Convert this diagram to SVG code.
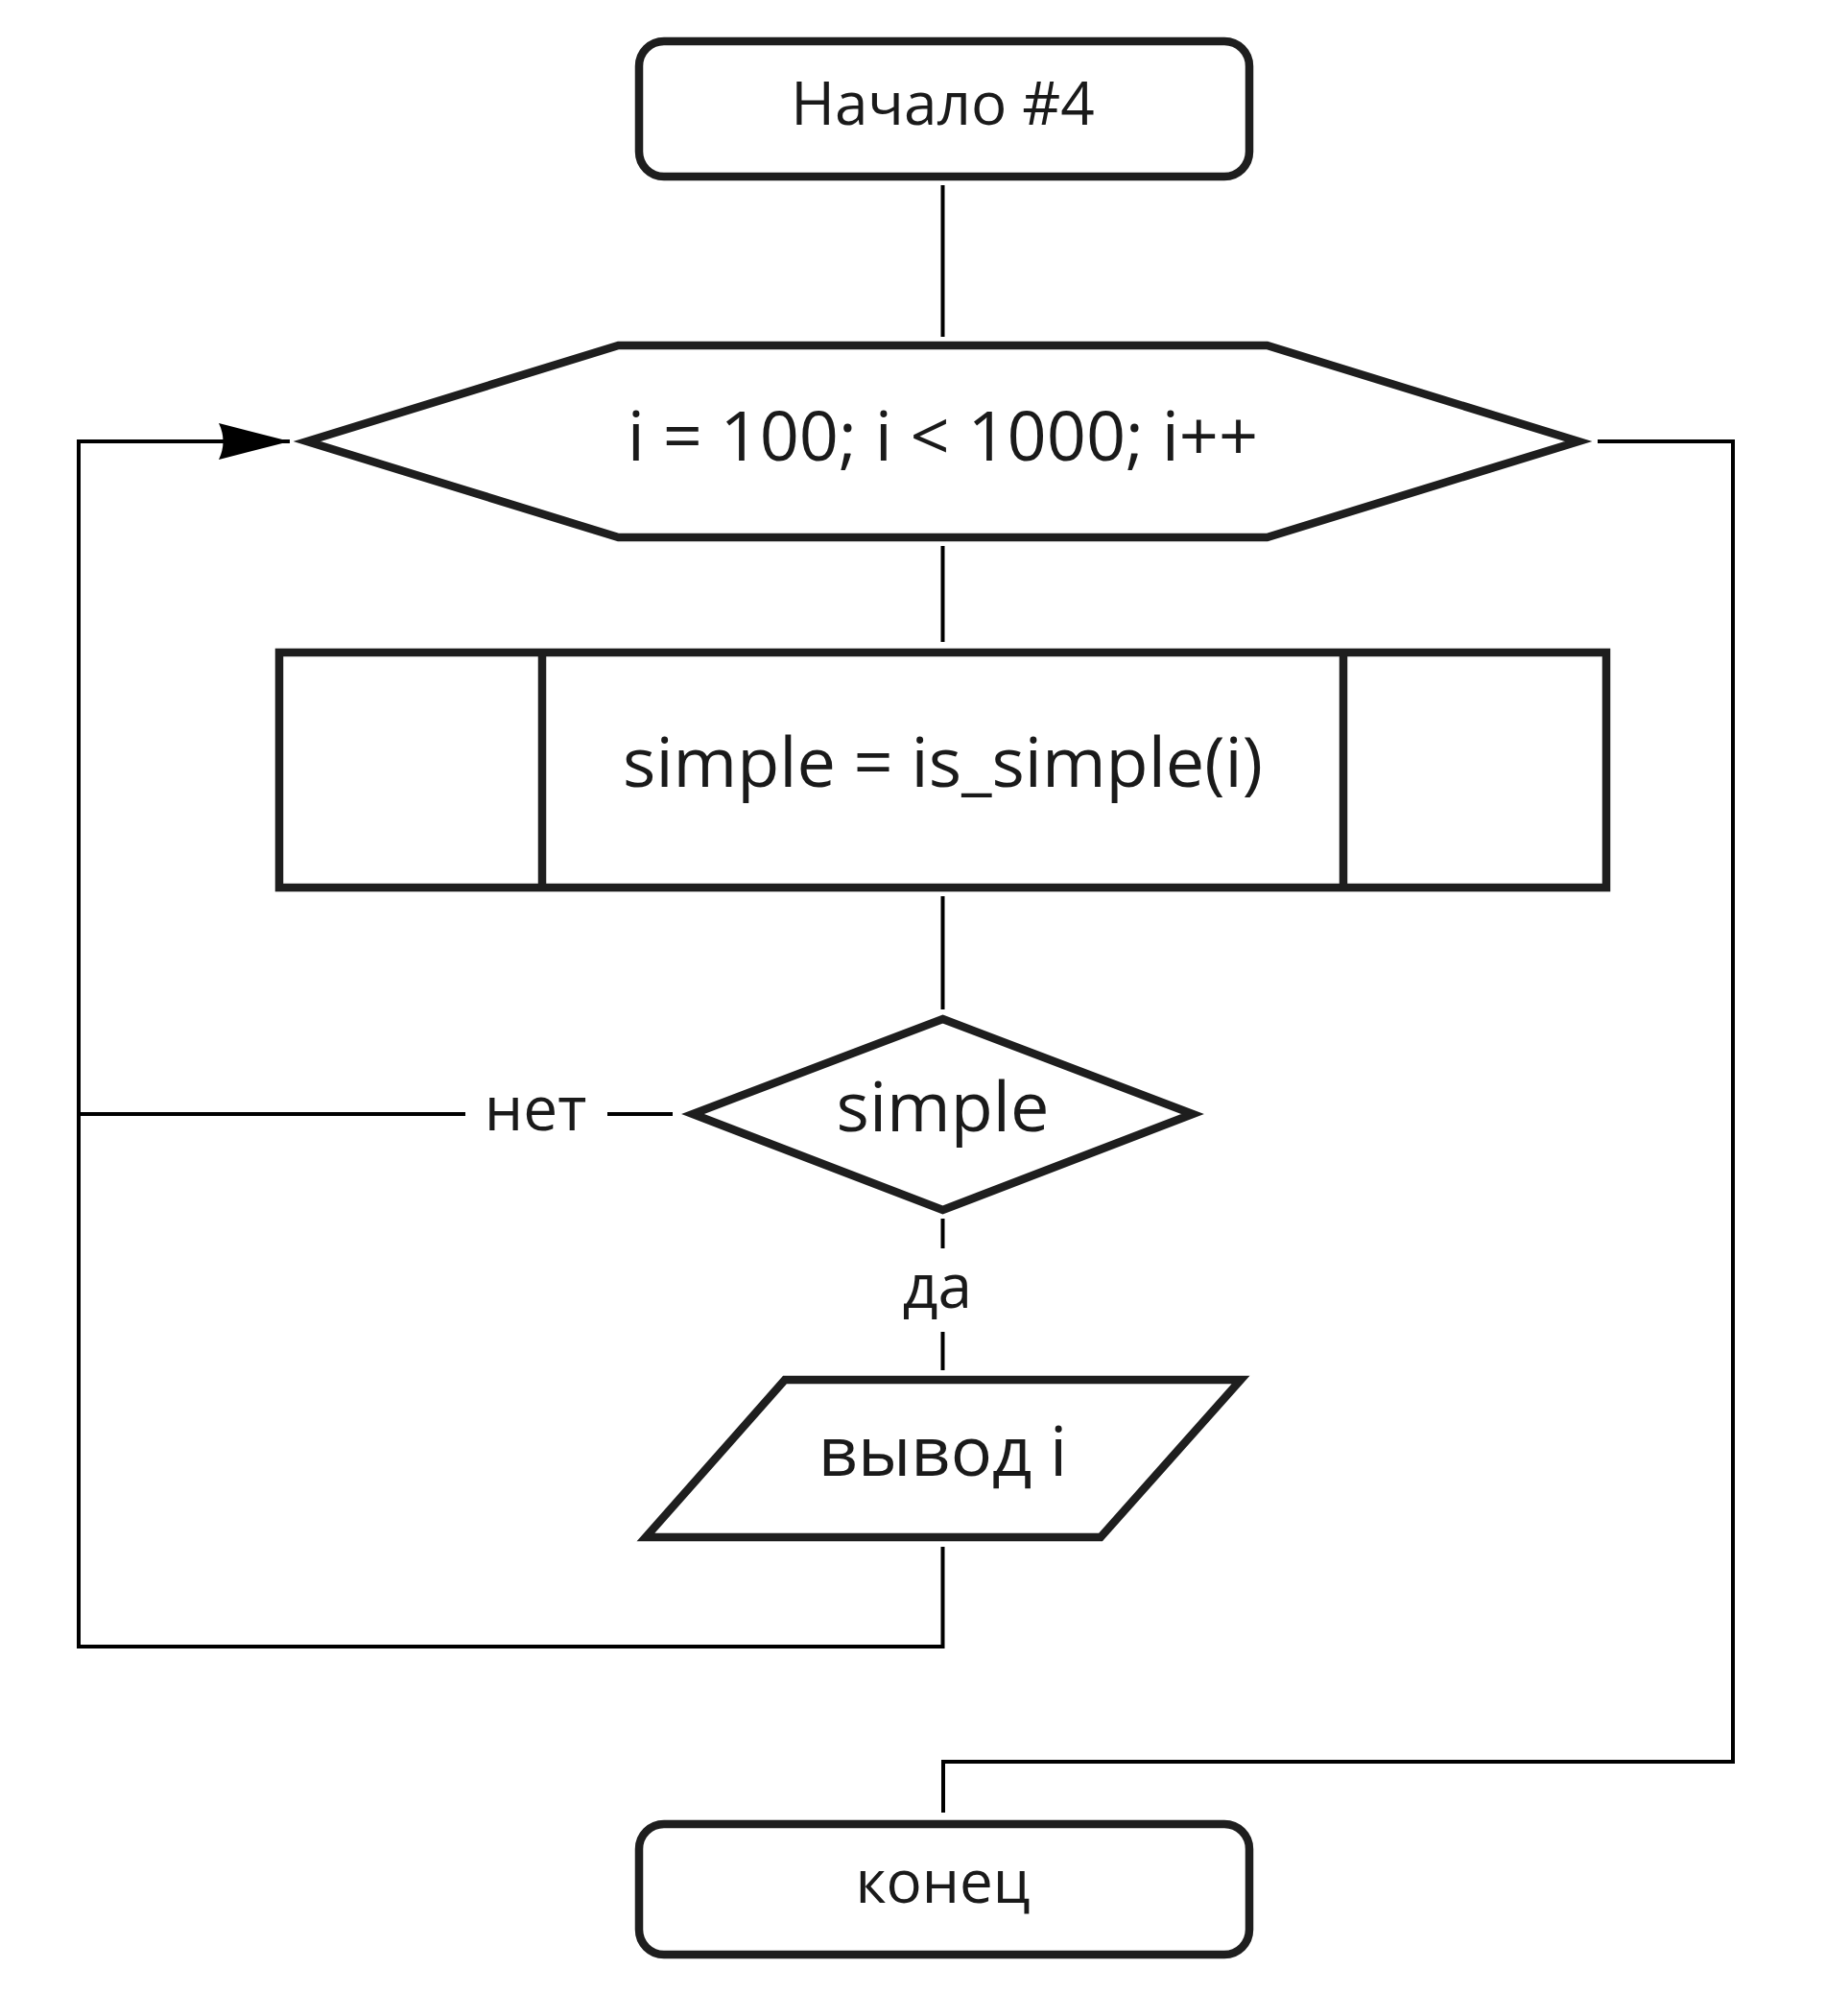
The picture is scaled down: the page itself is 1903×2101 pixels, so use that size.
<svg xmlns="http://www.w3.org/2000/svg" width="1903" height="2101" viewBox="0 0 1903 2101">
<style>
.node{fill:#ffffff;stroke:#1e1e1e;stroke-width:8.5;stroke-linejoin:miter;stroke-miterlimit:10}
.conn{fill:none;stroke:#000000;stroke-width:4}
.t{font-family:"Open Sans","Noto Sans","DejaVu Sans",sans-serif;fill:#1a1a1a;text-anchor:middle}
.big{font-size:72px}
.term{font-size:62px}
.lbl{font-size:64px}
</style>
<defs>
<marker id="arr" markerUnits="userSpaceOnUse" markerWidth="80" markerHeight="44" refX="74" refY="22" orient="auto" viewBox="0 0 80 44">
<path d="M74,22 L0,3 Q9,22 0,41 Z" fill="#000"/>
</marker>
</defs>
<rect width="1903" height="2101" fill="#ffffff"/>
<g id="connectors">
<line class="conn" x1="982.5" y1="193" x2="982.5" y2="351"/>
<line class="conn" x1="982.5" y1="569" x2="982.5" y2="669"/>
<line class="conn" x1="982.5" y1="934" x2="982.5" y2="1052"/>
<line class="conn" x1="982.5" y1="1270" x2="982.5" y2="1301"/>
<line class="conn" x1="982.5" y1="1388" x2="982.5" y2="1428"/>
<line class="conn" x1="701" y1="1161" x2="633" y2="1161"/>
<line class="conn" x1="485" y1="1161" x2="82" y2="1161"/>
<polyline class="conn" points="982.5,1612 982.5,1716 82,1716 82,460 302,460" marker-end="url(#arr)"/>
<polyline class="conn" points="1665,460 1806,460 1806,1836 983,1836 983,1889"/>
<text class="t lbl" x="558" y="1178">нет</text>
<text class="t lbl" x="977" y="1363">да</text>
</g>
<g id="start">
<rect class="node" x="666" y="43" width="636" height="141" rx="26" ry="26"/>
<text class="t term" x="982.5" y="130">Начало #4</text>
</g>
<g id="loop">
<polygon class="node" points="320,460 644.5,360 1320.5,360 1645,460 1320.5,560 644.5,560"/>
<text class="t big" x="982.5" y="480">i = 100; i &lt; 1000; i++</text>
</g>
<g id="subroutine">
<rect class="node" x="291" y="680" width="1383" height="245"/>
<line class="node" x1="565" y1="680" x2="565" y2="925"/>
<line class="node" x1="1400" y1="680" x2="1400" y2="925"/>
<text class="t big" x="982.5" y="820">simple = is_simple(i)</text>
</g>
<g id="decision">
<polygon class="node" points="982.5,1062 1243,1161 982.5,1261 722,1161"/>
<text class="t big" x="982.5" y="1179">simple</text>
</g>
<g id="output">
<polygon class="node" points="818,1438 1293,1438 1147,1602 673,1602"/>
<text class="t big" x="982.5" y="1538">вывод i</text>
</g>
<g id="end">
<rect class="node" x="666" y="1901" width="636" height="136" rx="26" ry="26"/>
<text class="t term" x="982.5" y="1983">конец</text>
</g>
</svg>
